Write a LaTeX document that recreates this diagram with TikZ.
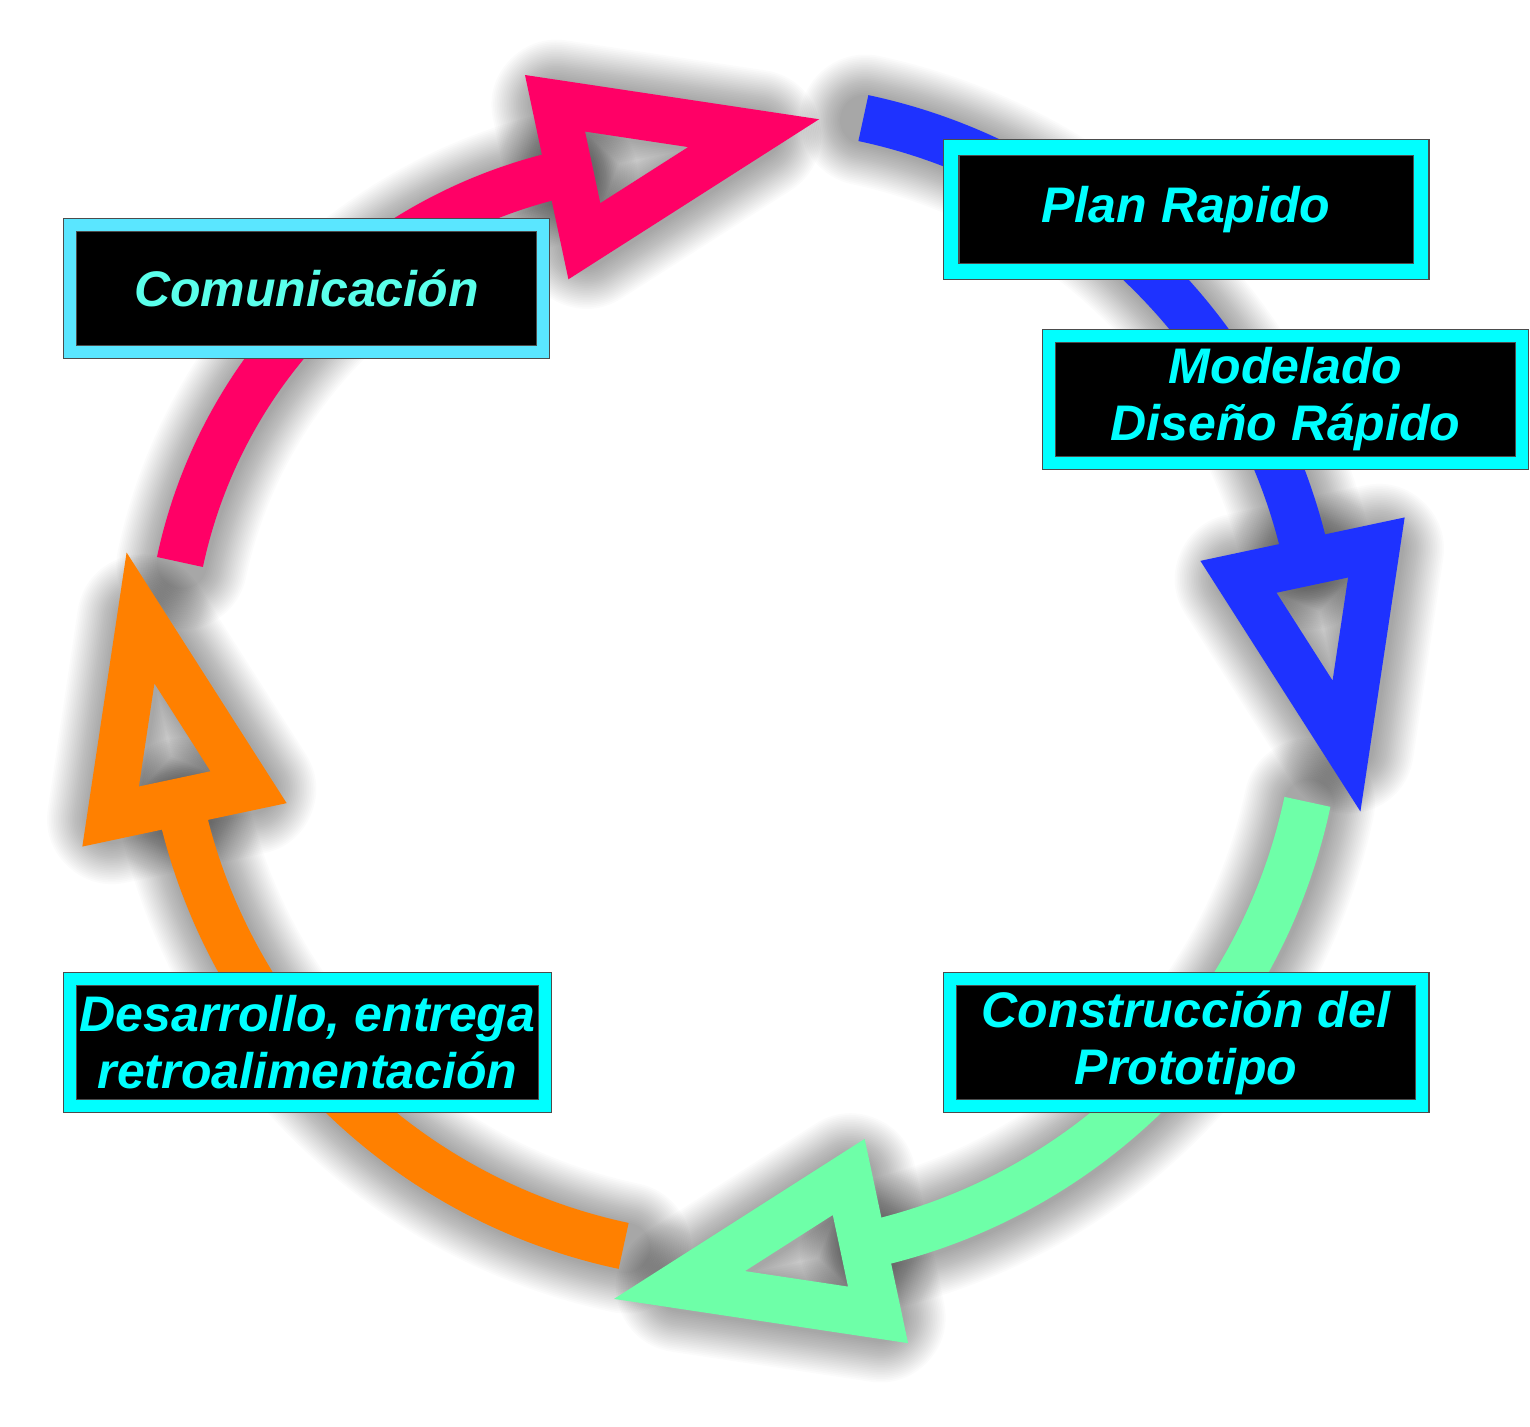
\documentclass[tikz,border=0pt]{standalone}
\usepackage{fontspec}
\newfontfamily\stagefont{Liberation Sans}
\usetikzlibrary{calc}

\definecolor{pinkflow}{RGB}{255,0,102}
\definecolor{blueflow}{RGB}{30,50,255}
\definecolor{greenflow}{RGB}{110,255,168}
\definecolor{orangeflow}{RGB}{255,128,0}
\definecolor{stagecyan}{RGB}{0,255,255}
\definecolor{commband}{RGB}{90,230,255}
\definecolor{commtext}{RGB}{90,255,235}

\begin{document}
\begin{tikzpicture}[
    x=0.5pt, y=-0.5pt,
    flow/.style={line width=23.5pt},
    head/.style={flow, line join=miter},
    haze/.style={line width=23.5pt+#1*1.75pt, line cap=round, line join=round, black, opacity=0.014},
    stage/.style={rectangle, fill=black, draw=black!70, line width=0.6pt, double=stagecyan, double distance=6pt,
        minimum width=236.3pt, minimum height=63.3pt, inner sep=0pt, align=center, text=stagecyan,
        font=\stagefont\bfseries\itshape\fontsize{25}{28.5}\selectfont}
]

% Page
\path[fill=white, use as bounding box] (0,0) rectangle (1530,1427);

% Hubs of the cycle
\coordinate (hub) at (743.5,682);
\coordinate (pinkhub) at (674.9,667.2);

% Soft shadows under the arrows
\begin{scope}[transform canvas={shift={(2,2)}}]
\foreach \c/\r/\a in {pinkhub/506/192, hub/576.5/282, hub/576.5/12, hub/576.5/102}
  \foreach \k in {1,...,24}{
    \draw[haze=\k] ([shift={(\a:\r)}]\c) arc[start angle=\a, end angle=\a+66, radius=\r];
    \draw[haze=\k] ([shift={(\a+66:\r-70.5)}]\c) -- ([shift={(\a+66:\r+70.5)}]\c)
        -- ($(\c)+(\a+66:\r)+(\a+156:188)$) -- cycle;
  }
\end{scope}

% Comunicacion -> Plan
\draw[flow, pinkflow] ([shift={(192:506)}]pinkhub) arc[start angle=192, end angle=258, radius=506];
\draw[head, pinkflow] ([shift={(258:435.5)}]pinkhub) -- ([shift={(258:576.5)}]pinkhub)
    -- ($(pinkhub)+(258:506)+(348:188)$) -- cycle;

% Plan -> Construccion
\draw[flow, blueflow] ([shift={(282:576.5)}]hub) arc[start angle=282, end angle=348, radius=576.5];
\draw[head, blueflow] ([shift={(348:506)}]hub) -- ([shift={(348:647)}]hub)
    -- ($(hub)+(348:576.5)+(78:188)$) -- cycle;

% Construccion -> Desarrollo
\draw[flow, greenflow] ([shift={(12:576.5)}]hub) arc[start angle=12, end angle=78, radius=576.5];
\draw[head, greenflow] ([shift={(78:506)}]hub) -- ([shift={(78:647)}]hub)
    -- ($(hub)+(78:576.5)+(168:188)$) -- cycle;

% Desarrollo -> Comunicacion
\draw[flow, orangeflow] ([shift={(102:576.5)}]hub) arc[start angle=102, end angle=168, radius=576.5];
\draw[head, orangeflow] ([shift={(168:506)}]hub) -- ([shift={(168:647)}]hub)
    -- ($(hub)+(168:576.5)+(258:188)$) -- cycle;

% Stages
\node[stage, double=commband, text=commtext] (comm) at (306.5,288.5) {Comunicación};
\node[stage, double distance=7.3pt, minimum width=235pt, minimum height=62pt] (plan) at (1186,209.5) {Plan Rapido};
\node[stage] (model) at (1285.5,399.5) {Modelado\\Diseño Rápido};
\node[stage] (build) at (1186,1042.5) {Construcción del\\Prototipo};
\node[stage, minimum width=237.3pt] (deliver) at (307.5,1042.5) {Desarrollo, entrega\\retroalimentación};

\end{tikzpicture}
\end{document}
